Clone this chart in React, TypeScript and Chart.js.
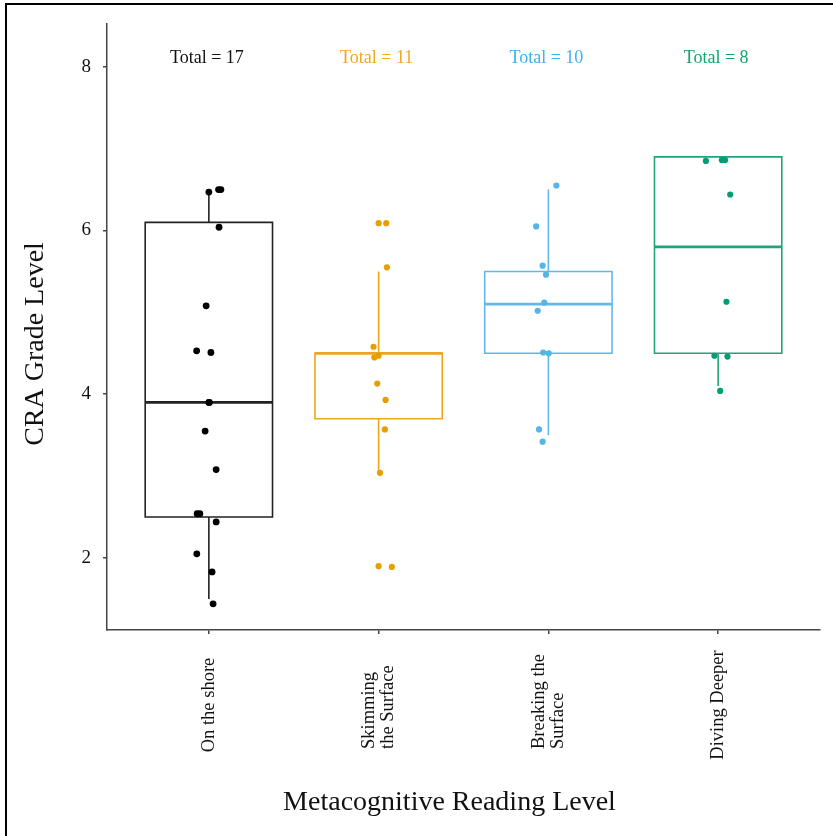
import React, { useEffect, useRef } from "react";
import { Chart, registerables } from "chart.js";

Chart.register(...registerables);

// ---- data ----
const categories: string[][] = [
  ["On the shore"],
  ["Skimming", "the Surface"],
  ["Breaking the", "Surface"],
  ["Diving Deeper"],
];
const totals = [17, 11, 10, 8];
const colors = ["#000000", "#E69F00", "#56B4E9", "#009E73"];
const boxColors = ["#222222", "#EBA521", "#62B8EA", "#23A27C"];
const totalColors = ["#111111", "#F2A81D", "#3FB0F0", "#12A36B"];

const lowerWhisker = [1.5, 3.05, 3.5, 4.1];
const q1 = [2.5, 3.7, 4.5, 4.5];
const median = [3.9, 4.5, 5.1, 5.8];
const q3 = [6.1, 4.5, 5.5, 6.9];
const upperWhisker = [6.47, 5.5, 6.5, 6.9];

const shoreValues = [6.47, 6.5, 6.5, 6.04, 5.08, 4.53, 4.51, 3.9, 3.9, 3.55, 3.08, 2.54, 2.54, 2.44, 2.05, 1.83, 1.44];
const shoreJitter = [0.0, 0.057, 0.071, 0.06, -0.016, -0.072, 0.012, 0.0, 0.003, -0.022, 0.043, -0.069, -0.053, 0.043, -0.071, 0.019, 0.025];
const skimValues = [6.09, 6.09, 5.55, 4.58, 4.45, 4.47, 4.13, 3.93, 3.57, 3.04, 1.9, 1.89];
const skimJitter = [0.0, 0.045, 0.049, -0.03, -0.025, 0.0, -0.008, 0.041, 0.037, 0.008, 0.0, 0.078];
const breakValues = [6.55, 6.05, 5.57, 5.46, 5.12, 5.02, 4.51, 4.5, 3.57, 3.42];
const breakJitter = [0.047, -0.072, -0.034, -0.014, -0.024, -0.063, -0.031, 0.002, -0.055, -0.034];
const diveValues = [6.85, 6.86, 6.86, 6.44, 5.13, 4.47, 4.46, 4.04];
const diveJitter = [-0.072, 0.022, 0.041, 0.071, 0.049, -0.022, 0.055, 0.012];

const groupValues = [shoreValues, skimValues, breakValues, diveValues];
const groupJitter = [shoreJitter, skimJitter, breakJitter, diveJitter];

const yTicks = [2, 4, 6, 8];
const yMin = 1.12;
const yMax = 8.53;

const xTitle = "Metacognitive Reading Level";
const yTitle = "CRA Grade Level";

const SERIF = "'Liberation Serif', 'Times New Roman', serif";
const BOX_HALF = 0.375;

export default function App() {
  const ref = useRef<HTMLCanvasElement>(null);

  useEffect(() => {
    document.body.style.margin = "0";
    const canvas = ref.current;
    if (!canvas) return;

    const datasets: any[] = [];
    // points first (drawn on top)
    groupValues.forEach((vals, i) => {
      datasets.push({
        type: "scatter",
        data: vals.map((v, j) => ({ x: i + 1 + groupJitter[i][j], y: v })),
        backgroundColor: colors[i],
        borderColor: colors[i],
        pointRadius: i === 0 ? 3.4 : 3.1,
        borderWidth: 0,
        order: 0,
      });
    });
    const lineDs = (data: any[], color: string, width: number, cap: string) => ({
      type: "scatter",
      showLine: true,
      data,
      borderColor: color,
      backgroundColor: color,
      borderWidth: width,
      pointRadius: 0,
      borderCapStyle: cap,
      borderJoinStyle: "miter",
      fill: false,
      order: 1,
    });
    categories.forEach((_, i) => {
      const x = i + 1;
      const c = boxColors[i];
      datasets.push(
        lineDs(
          [
            { x: x - BOX_HALF, y: q1[i] },
            { x: x + BOX_HALF, y: q1[i] },
            { x: x + BOX_HALF, y: q3[i] },
            { x: x - BOX_HALF, y: q3[i] },
            { x: x - BOX_HALF, y: q1[i] },
          ],
          c,
          1.6,
          "square"
        )
      );
      datasets.push(
        lineDs(
          [
            { x: x - BOX_HALF, y: median[i] },
            { x: x + BOX_HALF, y: median[i] },
          ],
          c,
          2.8,
          "butt"
        )
      );
      datasets.push(lineDs([{ x, y: q3[i] }, { x, y: upperWhisker[i] }], c, 1.6, "butt"));
      datasets.push(lineDs([{ x, y: q1[i] }, { x, y: lowerWhisker[i] }], c, 1.6, "butt"));
    });

    const textPlugin = {
      id: "texts",
      afterDraw(chart: any) {
        const ctx = chart.ctx;
        const xs = chart.scales.x;
        const ys = chart.scales.y;
        ctx.save();
        ctx.textAlign = "center";
        ctx.textBaseline = "middle";
        ctx.font = `18px ${SERIF}`;
        totals.forEach((t, i) => {
          ctx.fillStyle = totalColors[i];
          ctx.fillText(`Total = ${t}`, xs.getPixelForValue(i + 1) - 2, ys.getPixelForValue(8.1));
        });
        // category labels (rotated, lines centred on the tick)
        ctx.fillStyle = "#111";
        ctx.font = `18.5px ${SERIF}`;
        const lineGap = 19;
        categories.forEach((lines, i) => {
          const px = xs.getPixelForValue(i + 1);
          const single = lines.length === 1;
          ctx.textAlign = single ? "center" : "left";
          lines.forEach((ln, j) => {
            ctx.save();
            ctx.translate(px + (j - (lines.length - 1) / 2) * lineGap, single ? 705 : 749);
            ctx.rotate(-Math.PI / 2);
            ctx.fillText(ln, 0, 0);
            ctx.restore();
          });
        });
        ctx.textAlign = "center";
        ctx.font = `28px ${SERIF}`;
        ctx.fillText(xTitle, 449.5, 803);
        ctx.translate(36, 344);
        ctx.rotate(-Math.PI / 2);
        ctx.fillText(yTitle, 0, 0);
        ctx.restore();
      },
    };

    const chart = new Chart(canvas, {
      type: "scatter",
      data: { datasets },
      plugins: [textPlugin],
      options: {
        animation: false,
        responsive: false,
        devicePixelRatio: 1,
        layout: { padding: { left: 15, right: 13, top: 23, bottom: 12 } },
        plugins: { legend: { display: false }, tooltip: { enabled: false } },
        scales: {
          x: {
            type: "linear",
            min: 0.4,
            max: 4.6,
            afterBuildTicks: (s: any) => {
              s.ticks = categories.map((_, i) => ({ value: i + 1 }));
            },
            afterFit: (s: any) => {
              s.height = 836 - 12 - 630;
            },
            grid: {
              display: true,
              drawOnChartArea: false,
              drawTicks: true,
              tickLength: 4,
              color: "#444",
              lineWidth: 1.5,
            },
            border: { display: true, color: "#444", width: 1.5 },
            ticks: { display: false },
          },
          y: {
            type: "linear",
            min: yMin,
            max: yMax,
            afterBuildTicks: (s: any) => {
              s.ticks = yTicks.map((v) => ({ value: v }));
            },
            afterFit: (s: any) => {
              s.width = 107 - 15;
            },
            grid: {
              display: true,
              drawOnChartArea: false,
              drawTicks: true,
              tickLength: 4,
              color: "#444",
              lineWidth: 1.5,
            },
            border: { display: true, color: "#444", width: 1.5 },
            ticks: {
              padding: 12,
              color: "#111",
              font: { family: SERIF, size: 19 },
              callback: (v: any) => String(v),
            },
          },
        },
      },
    });
    return () => chart.destroy();
  }, []);

  return (
    <div style={{ position: "relative", width: 833, height: 836, background: "#fff" }}>
      <canvas ref={ref} width={833} height={836} style={{ position: "absolute", left: 0, top: 0 }} />
      <div
        style={{
          position: "absolute",
          left: 5,
          top: 3,
          right: 0,
          bottom: 0,
          borderLeft: "2px solid #000",
          borderTop: "2px solid #000",
          pointerEvents: "none",
        }}
      />
    </div>
  );
}
